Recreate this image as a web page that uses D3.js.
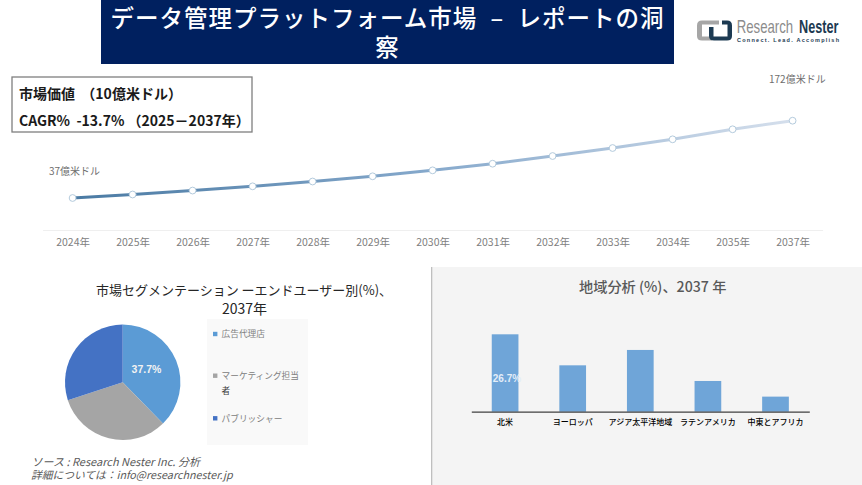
<!DOCTYPE html>
<html lang="ja"><head><meta charset="utf-8">
<script src="https://cdn.jsdelivr.net/npm/d3@7/dist/d3.min.js"></script>
<style>html,body{margin:0;padding:0;background:#fff;overflow:hidden}svg{display:block}
text{font-family:"Noto Sans CJK JP","Noto Sans",sans-serif}</style></head>
<body><svg id="c" width="862" height="485"></svg>
<script>
const years=["2024年","2025年","2026年","2027年","2028年","2029年","2030年","2031年","2032年","2033年","2034年","2035年","2037年"];
const marketValues=[37,43.1,50,57.4,65.8,74.9,85.3,96.9,110.3,124.3,139.5,157,172];
const segments=["広告代理店","マーケティング担当者","パブリッシャー"];
const segmentShares=[37.7,32.3,30];
const segmentColors=["#5b9bd5","#a5a5a5","#4472c4"];
const regions=["北米","ヨーロッパ","アジア太平洋地域","ラテンアメリカ","中東とアフリカ"];
const regionShares=[26.7,16,21.3,10.6,5.2];

const svg=d3.select("#c");
const defs=svg.append("defs");
const label=(x,y,t,size,fill,anchor,extra)=>{
  const e=svg.append("text").attr("x",x).attr("y",y).attr("font-size",size).attr("fill",fill)
    .attr("text-anchor",anchor||"start").text(t);
  if(extra) Object.entries(extra).forEach(([k,v])=>e.attr(k,v));
  return e;
};
const latin="font-family:'Liberation Sans',sans-serif";

// Panels
svg.append("rect").attr("x",432).attr("y",267).attr("width",430).attr("height",218).attr("fill","#f4f4f4");
svg.append("rect").attr("x",431).attr("y",267).attr("width",1.3).attr("height",218).attr("fill","#bfbfbf");
svg.append("rect").attr("x",207).attr("y",319).attr("width",101).attr("height",126).attr("fill","#f9f9f9");

// Title
svg.append("rect").attr("x",101).attr("y",0).attr("width",573).attr("height",64).attr("fill","#00205f");
const tt=svg.append("text").attr("text-anchor","middle").attr("fill","#fff").attr("font-size",23.5).attr("font-weight",500)
  .attr("letter-spacing",1).attr("word-spacing",7);
tt.append("tspan").attr("x",387.5).attr("y",27).text("データ管理プラットフォーム市場 – レポートの洞");
tt.append("tspan").attr("x",387.5).attr("y",56).text("察");

// Logo
svg.append("path").attr("d","M719 20.5H702Q697 20.5 697 25.5V36Q697 40.5 702 40.5H712V36.5H702V24.5H719Z").attr("fill","#a6a6a6");
svg.append("path").attr("d","M709 27V36Q709 40.5 714 40.5H727Q732 40.5 732 36V25.5Q732 20.5 727 20.5H722V24.5H727.5V36.5H713.5V27Z").attr("fill","#1c3a52");
const narrow="font-family:'Liberation Sans Narrow','Liberation Sans',sans-serif";
const fitted=(x,y,t,width,fill,weight)=>{
  const e=svg.append("text").attr("font-size",18).attr("fill",fill).attr("font-weight",weight).attr("style",narrow).text(t);
  const s=width/e.node().getComputedTextLength();
  e.attr("transform",`translate(${x},${y}) scale(${s},1)`);
};
fitted(736.7,32.5,"Research",56.5,"#8c8c8c",400);
fitted(799,32.5,"Nester",39.5,"#1c3a52",700);
label(737,41.5,"Connect. Lead. Accomplish",5.5,"#1c3a52","start",{style:narrow,"font-weight":700,textLength:102,lengthAdjust:"spacing"});

// Info box
svg.append("rect").attr("x",12).attr("y",77).attr("width",240).attr("height",55).attr("fill","#fff").attr("stroke","#7f7f7f").attr("stroke-width",1.3);
label(19,99,"市場価値  （10億米ドル）",14,"#1a1a1a","start",{"font-weight":700,style:"white-space:pre"});
label(19,125.5,"CAGR%  -13.7% （2025－2037年）",14,"#1a1a1a","start",{"font-weight":700,style:"white-space:pre"});

// Line chart
const x=d3.scalePoint().domain(years).range([42.6,822.6]).padding(0.5);
const y=d3.scaleLinear().domain([37,172]).range([198,120.7]);
const grad=defs.append("linearGradient").attr("id","lg").attr("gradientUnits","userSpaceOnUse")
  .attr("x1",x(years[0])).attr("x2",x(years[years.length-1])).attr("y1",0).attr("y2",0);
[[0,"#4a7aa3"],[0.5,"#86a9cc"],[1,"#d5dfec"]].forEach(([o,c])=>grad.append("stop").attr("offset",o).attr("stop-color",c));
const xAxis=svg.append("g").attr("transform","translate(0,230)").call(d3.axisBottom(x).tickSize(0).tickPadding(9));
xAxis.select(".domain").attr("stroke","#efefef").attr("stroke-width",1);
xAxis.selectAll("text").attr("font-size",10.5).attr("fill","#808080").style("font-family",'"Noto Sans CJK JP",sans-serif');
svg.append("path").datum(marketValues)
  .attr("d",d3.line().x((d,i)=>x(years[i])).y(d=>y(d)))
  .attr("fill","none").attr("stroke","url(#lg)").attr("stroke-width",3);
svg.selectAll(".pt").data(marketValues).join("circle").attr("class","pt")
  .attr("cx",(d,i)=>x(years[i])).attr("cy",d=>y(d)).attr("r",3.4)
  .attr("fill","#fff").attr("stroke","#b4cbdd").attr("stroke-width",1);
label(49,174.5,"37億米ドル",10,"#6e6e6e");
label(769,82.5,"172億米ドル",10,"#6e6e6e");

// Pie
const ptt=svg.append("text").attr("text-anchor","middle").attr("fill","#262626").attr("font-size",13);
ptt.append("tspan").attr("x",244).attr("y",295).text("市場セグメンテーション ーエンドユーザー別(%)、");
ptt.append("tspan").attr("x",244.5).attr("y",314).attr("font-size",14).text("2037年");
const pie=d3.pie().sort(null)(segmentShares);
const arc=d3.arc().innerRadius(0).outerRadius(57.7);
const pg=svg.append("g").attr("transform","translate(122.7,382.3)");
pg.selectAll("path").data(pie).join("path").attr("d",arc).attr("fill",(d,i)=>segmentColors[i]);
label(146.5,372.8,segmentShares[0].toFixed(1)+"%",10.5,"#f2f2f2","middle",{"font-weight":700,style:latin});

// Legend
const legY=[334,375.7,418.3];
svg.selectAll(".lk").data(segments).join("rect").attr("class","lk")
  .attr("x",213).attr("y",(d,i)=>legY[i]-2.2).attr("width",4.4).attr("height",4.4).attr("fill",(d,i)=>segmentColors[i]);
const legLines=[[segments[0]],[segments[1].slice(0,9),segments[1].slice(9)],[segments[2]]];
legLines.forEach((ls,i)=>{
  label(221.5,legY[i]+3.3,ls[0],8.7,"#808080");
  if(ls[1]) label(221.5,legY[i]+18.5,ls[1],8.7,"#404040");
});

// Bars
svg.append("text").attr("x",652.7).attr("y",291.5).attr("text-anchor","middle").attr("font-size",14.2).attr("font-weight",500).attr("fill","#595959").text("地域分析 (%)、2037 年");
const bx=d3.scaleBand().domain(regions).range([471.3,809.3]).paddingInner(0.605).paddingOuter(0.3025);
const by=d3.scaleLinear().domain([0,26.7]).range([411.7,334.3]);
svg.selectAll(".bar").data(regionShares).join("rect").attr("class","bar")
  .attr("x",(d,i)=>bx(regions[i])).attr("y",d=>by(d)).attr("width",bx.bandwidth()).attr("height",d=>by(0)-by(d)).attr("fill","#6fa5d8");
const bAxis=svg.append("g").attr("transform","translate(0,411.7)").call(d3.axisBottom(bx).tickSize(0).tickPadding(7.5));
bAxis.select(".domain").attr("stroke","#404040").attr("stroke-width",1.3);
bAxis.selectAll("text").attr("font-size",8).attr("font-weight",500).attr("fill","#000").style("font-family",'"Noto Sans CJK JP",sans-serif');
label(507,382,regionShares[0].toFixed(1)+"%",10,"#e4eef8","middle",{"font-weight":700,style:latin});

// Source
label(31.5,465.5,"ソース : Research Nester Inc. 分析",11,"#595959","start",{"font-style":"italic"});
label(31,479,"詳細については：info@researchnester.jp",10.75,"#595959","start",{"font-style":"italic"});
</script></body></html>
